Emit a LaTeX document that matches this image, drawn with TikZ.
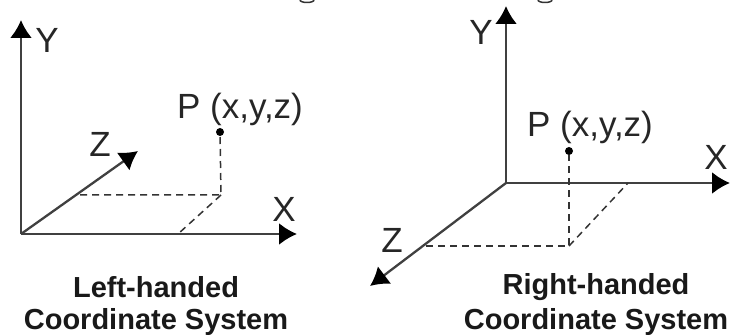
\documentclass[tikz,border=0pt]{standalone}
\usepackage{fontspec}
\setmainfont{Liberation Sans}
\usetikzlibrary{arrows.meta}
\tikzset{
  axis/.style={-{Latex[length=18pt,width=22pt,black]},line width=2.3pt,draw=black!75},
  hidden/.style={dash pattern=on 7pt off 5pt,line width=1.5pt,draw=black!80},
  lbl/.style={inner sep=0pt,font=\fontsize{35}{35}\selectfont,text=black!85},
  caption/.style={inner sep=0pt,font=\fontsize{29}{29}\selectfont\bfseries,text=black!90},
  dotp/.style={circle,fill=black,inner sep=0pt,minimum size=8pt},
}
\begin{document}
\begin{tikzpicture}[x=1pt,y=-1pt]
  \useasboundingbox (0,0) rectangle (731,336);
  % left-handed
  \coordinate (lo) at (21,234);
  \coordinate (ly) at (21,20);
  \coordinate (lx) at (297,234);
  \coordinate (lz) at (138,151);
  \coordinate (lzp) at (80,195);
  \coordinate (lxp) at (178,234);
  \coordinate (lf) at (221,195);
  \node[dotp] (lp) at (220,132) {};
  \draw[axis] (lo) -- (ly);
  \draw[axis] (lo) -- (lx);
  \draw[axis] (lo) -- (lz);
  \draw[hidden] (lzp) -- (lf) -- (lp);
  \draw[hidden] (lf) -- (lxp);
  \node[lbl] (lyl) at (47,40) {Y};
  \node[lbl] (lxl) at (284,209) {X};
  \node[lbl] (lzl) at (100,144) {Z};
  \node[lbl] (lpl) at (240,109) {P (x,y,z)};
  \node[caption] (lc1) at (156,287) {Left-handed};
  \node[caption] (lc2) at (156,322) {Coordinate System};
  % right-handed
  \coordinate (ro) at (506,183);
  \coordinate (ry) at (506,6);
  \coordinate (rx) at (730,183);
  \coordinate (rz) at (370,286);
  \coordinate (rzp) at (426,246);
  \coordinate (rxp) at (628,183);
  \coordinate (rf) at (569,246);
  \node[dotp] (rp) at (569,151) {};
  \draw[axis] (ro) -- (ry);
  \draw[axis] (ro) -- (rx);
  \draw[axis] (ro) -- (rz);
  \draw[hidden] (rzp) -- (rf) -- (rp);
  \draw[hidden] (rf) -- (rxp);
  \node[lbl] (ryl) at (481,32) {Y};
  \node[lbl] (rxl) at (716,157) {X};
  \node[lbl] (rzl) at (392,240) {Z};
  \node[lbl] (rpl) at (590,127) {P (x,y,z)};
  \node[caption] (rc1) at (596,287) {Right-handed};
  \node[caption] (rc2) at (596,322) {Coordinate System};
  % cut-off descenders along the top edge
  \draw[line width=1.5pt,black!80] (300,0) arc(180:360:7 and -2.5);
  \draw[line width=1.5pt,black!80] (538,0) arc(180:360:7 and -2.5);
\end{tikzpicture}
\end{document}
